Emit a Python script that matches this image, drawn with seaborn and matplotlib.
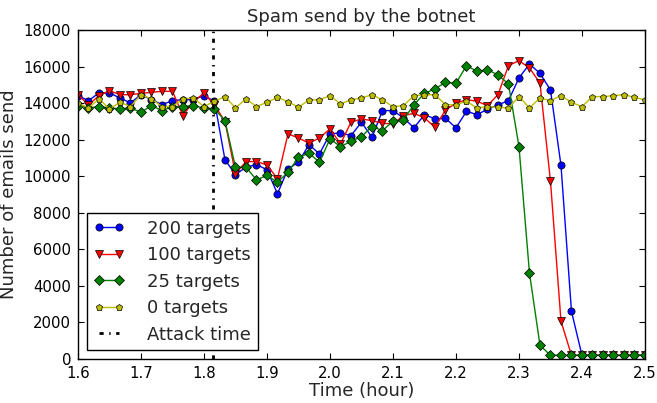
import numpy as np
import matplotlib
matplotlib.use("Agg")
import matplotlib.pyplot as plt
import seaborn as sns

# one sample per minute, 1.6 h .. 2.5 h
minutes = list(range(96, 151))
hours = np.array(minutes) / 60.0

attack_time = 1.8143

spam_200 = [14400, 14135, 14555, 14555, 14280, 14010, 14460, 14190, 13915, 14135,
            14190, 14190, 14410, 14100, 10895, 10090, 10490, 10640, 10350, 9040,
            10400, 10765, 11730, 11220, 12315, 12370, 12225, 12950, 12130, 13590,
            13590, 13190, 12645, 13370, 13135, 13170, 12645, 13550, 13370, 13660,
            13900, 14135, 15375, 16140, 15625, 14720, 10600, 2605, 200, 200,
            200, 200, 200, 200, 200]
spam_100 = [14460, 13900, 14410, 14680, 14460, 14460, 14535, 14590, 14645, 14645,
            13315, 14100, 14535, 13900, 12990, 10130, 10800, 10800, 10620, 9860,
            12315, 12095, 11800, 12095, 12590, 11770, 12950, 13135, 13040, 12895,
            12860, 13315, 13440, 13190, 12675, 13625, 13990, 14190, 14100, 13860,
            14460, 16050, 16320, 15920, 15100, 9725, 2075, 200, 200, 200,
            200, 200, 200, 200, 200]
spam_25 = [13860, 13735, 13810, 13735, 13680, 13735, 13495, 13860, 13590, 13810,
           13810, 13860, 13735, 13680, 13040, 10490, 10490, 9800, 10040, 9670,
           10215, 11040, 11255, 10765, 12040, 11620, 11910, 12170, 12715, 12495,
           13005, 13095, 13915, 14535, 14775, 15135, 15080, 16050, 15735, 15830,
           15540, 15050, 11620, 4700, 750, 200, 200, 200, 200, 200,
           200, 200, 200, 200, 200]
spam_0 = [13990, 13735, 14230, 13680, 14040, 13810, 14460, 14230, 13810, 13810,
          14230, 14280, 13810, 14100, 14355, 13735, 14230, 13810, 14040, 14315,
          14080, 13770, 14175, 14175, 14410, 13955, 14175, 14280, 14460, 14175,
          13810, 13860, 14410, 14445, 14460, 13915, 13915, 14100, 13735, 13810,
          13770, 13735, 14355, 13735, 14280, 14135, 14410, 14040, 13810, 14355,
          14355, 14410, 14460, 14315, 14175]

series = [
    ("200 targets", spam_200, "b", "o", 5.2),
    ("100 targets", spam_100, "r", "v", 5.5),
    ("25 targets", spam_25, "g", "D", 5.0),
    ("0 targets", spam_0, (0.75, 0.75, 0.0), "p", 4.5),
]

sns.set_style("ticks", {"xtick.direction": "in", "ytick.direction": "in",
                        "axes.edgecolor": "black"})
plt.rcParams["font.family"] = ["DejaVu Sans"]

fig = plt.figure(figsize=(6.57, 4.03), dpi=100)
ax = fig.add_axes([0.1187, 0.1092, 0.8630, 0.8164])

for label, vals, color, marker, ms in series:
    sns.lineplot(x=hours, y=vals, ax=ax, color=color, marker=marker,
                 markersize=ms, markeredgecolor="black", markeredgewidth=0.5,
                 linewidth=1, label=label)

ax.axvline(attack_time, color="black", linewidth=2,
           linestyle=(0, (1.5, 2.0, 0.5, 2.0)), label="Attack time")

ax.set_xlim(1.6, 2.5)
ax.set_ylim(0, 18000)
xt = [1.6, 1.7, 1.8, 1.9, 2.0, 2.1, 2.2, 2.3, 2.4, 2.5]
ax.set_xticks(xt)
ax.set_xticklabels(["%.1f" % v for v in xt])
yt = list(range(0, 18001, 2000))
ax.set_yticks(yt)
ax.set_yticklabels([str(v) for v in yt])
ax.tick_params(direction="in", top=True, right=True, length=4, width=0.8,
               labelsize=10.7, colors="black", pad=5)
for s in ax.spines.values():
    s.set_visible(True)
    s.set_linewidth(1)
    s.set_color("black")

ax.set_title("Spam send by the botnet", fontsize=13, pad=6)
ax.set_xlabel("Time (hour)", fontsize=13, labelpad=1)
ax.set_ylabel("Number of emails send", fontsize=13, labelpad=4)

leg = ax.legend(loc="lower left", numpoints=2, fontsize=13, fancybox=False,
                framealpha=1, edgecolor="black", handlelength=1.7,
                handletextpad=1.3, labelspacing=0.47, borderpad=0.35)
leg.get_frame().set_linewidth(1)

fig.savefig("out.png", dpi=100)
